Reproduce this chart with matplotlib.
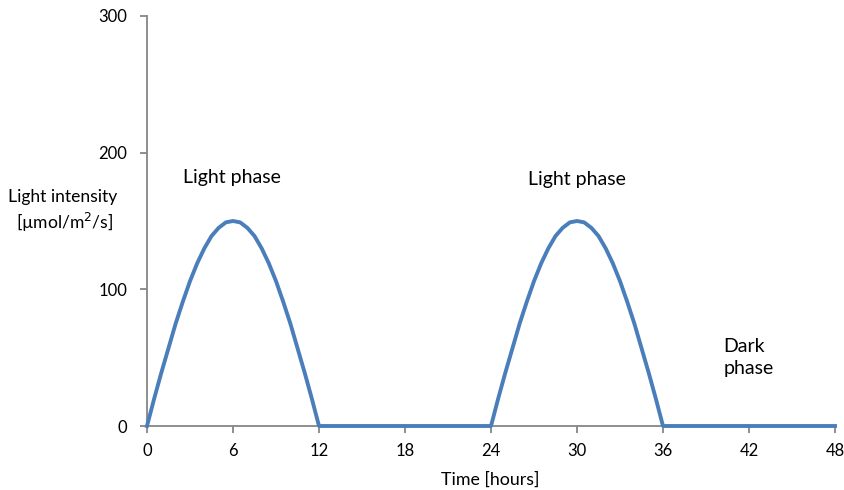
import numpy as np
import matplotlib
matplotlib.use("Agg")
from matplotlib import pyplot as plt

plt.rcParams['font.family'] = ['Lato', 'DejaVu Sans']

# light intensity every half hour
hump = [0, 20, 39, 57, 75, 91, 106, 119, 130, 139, 145, 149, 150,
        149, 145, 139, 130, 119, 106, 91, 75, 57, 39, 20, 0]
flat = [0] * 23
intensity = hump + flat + hump + flat + [0]
hours = np.arange(len(intensity)) * 0.5

x_ticks = [0, 6, 12, 18, 24, 30, 36, 42, 48]
y_ticks = [0, 100, 200, 300]

axis_col = '#868686'
line_col = '#4a7ebb'

fig = plt.figure(figsize=(8.45, 4.9), dpi=100)
ax = fig.add_axes([147 / 845, 1 - 426 / 490, 688 / 845, 410 / 490])

ax.plot(hours, intensity, color=line_col, lw=2.8, solid_joinstyle='round', clip_on=False, zorder=3)

ax.set_xlim(0, 48)
ax.set_ylim(0, 300)
ax.set_xticks(x_ticks)
ax.set_yticks(y_ticks)

for s in ['top', 'right']:
    ax.spines[s].set_visible(False)
for s in ['left', 'bottom']:
    ax.spines[s].set_color(axis_col)
    ax.spines[s].set_linewidth(1.3)
ax.tick_params(axis='both', colors=axis_col, length=5, width=1.3, labelcolor='black', labelsize=12)
ax.tick_params(axis='x', pad=7)
ax.tick_params(axis='y', pad=9)

fig.text(490 / 845, 1 - 480 / 490, 'Time [hours]', ha='center', va='center', fontsize=12.8)
fig.text(63 / 845, 1 - 197 / 490, 'Light intensity', ha='center', va='center', fontsize=12.6)
fig.text(65 / 845, 1 - 222 / 490, '[µmol/m$^2$/s]', ha='center', va='center', fontsize=12.6)

ax.text(5.9, 182, 'Light phase', ha='center', va='center', fontsize=14)
ax.text(30.0, 180, 'Light phase', ha='center', va='center', fontsize=14)
ax.text(40.2, 50, 'Dark\nphase', ha='left', va='center', fontsize=14, linespacing=1.35)

fig.savefig('out.png', dpi=100)
